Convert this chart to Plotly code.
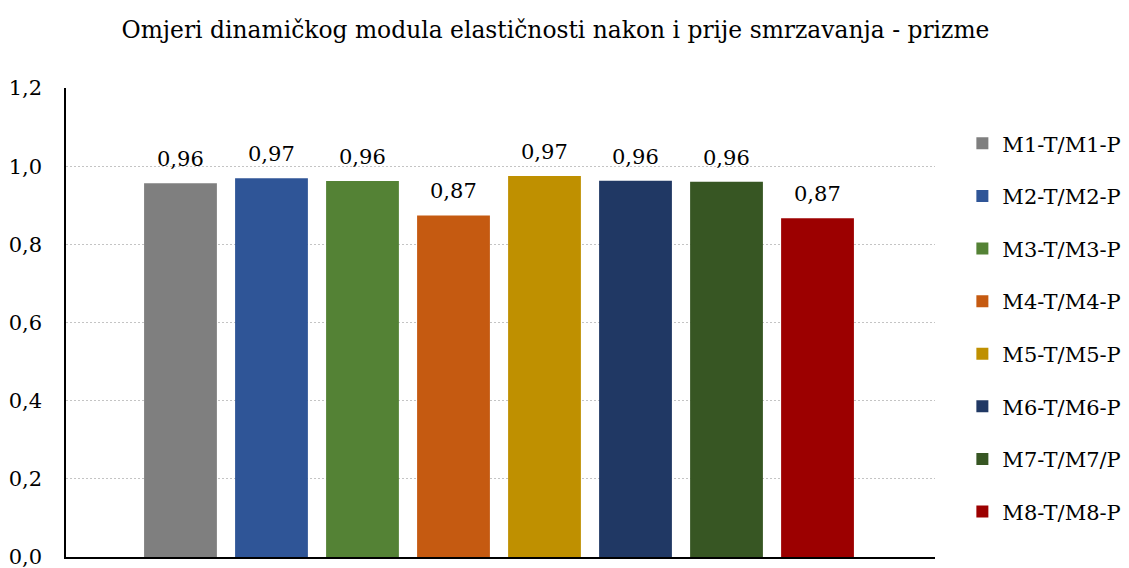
import plotly.graph_objects as go

# Ratios of dynamic modulus of elasticity after/before freezing (prisms)
series_names = ["M1-T/M1-P", "M2-T/M2-P", "M3-T/M3-P", "M4-T/M4-P",
                "M5-T/M5-P", "M6-T/M6-P", "M7-T/M7/P", "M8-T/M8-P"]
ratios = [0.956, 0.969, 0.962, 0.874, 0.975, 0.963, 0.960, 0.867]
colors = ["#7f7f7f", "#2f5597", "#548235", "#c55a11",
          "#bf9000", "#203864", "#375623", "#9c0000"]

FONT = "DejaVu Serif"
BLACK = "#000000"

fig = go.Figure()
for name, val, col in zip(series_names, ratios, colors):
    fig.add_trace(go.Bar(
        x=[name], y=[val], name=name, legendgroup=name, width=0.8,
        marker=dict(color=col, line=dict(width=0)),
    ))
    # value label above each bar
    fig.add_annotation(
        x=name, y=val, text=f"{val:.2f}".replace(".", ","),
        showarrow=False, yanchor="bottom", yshift=10,
        font=dict(family=FONT, size=21, color=BLACK),
    )

fig.update_layout(
    width=1129, height=568,
    margin=dict(l=66, r=194, t=88, b=11, autoexpand=False),
    paper_bgcolor="white", plot_bgcolor="white",
    separators=",.",
    barmode="overlay",
    title=dict(text="Omjeri dinamičkog modula elastičnosti nakon i prije smrzavanja - prizme",
               x=0.492, xanchor="center", y=0.947, yanchor="middle",
               font=dict(family=FONT, size=23.4, color=BLACK)),
    font=dict(family=FONT, size=21, color=BLACK),
    showlegend=True,
    legend=dict(x=1.0315, xanchor="left", y=0.925, yanchor="top",
                font=dict(family=FONT, size=21, color=BLACK),
                tracegroupgap=22.3, itemwidth=30,
                bgcolor="rgba(0,0,0,0)"),
    yaxis=dict(range=[0, 1.2], dtick=0.2, tickformat=".1f",
               showgrid=True, gridcolor="#c4c4c4", griddash="2px,2px", gridwidth=1,
               showline=True, linecolor=BLACK, linewidth=1.5,
               zeroline=False, ticks="", ticklabelstandoff=18, automargin=False,
               ticklabeloverflow="allow",
               tickfont=dict(family=FONT, size=21, color=BLACK)),
    xaxis=dict(type="category", range=[-1.258, 8.291],
               showline=True, linecolor=BLACK, linewidth=1.5,
               showticklabels=False, ticks="", showgrid=False, automargin=False),
)

fig.write_html("out.html")
